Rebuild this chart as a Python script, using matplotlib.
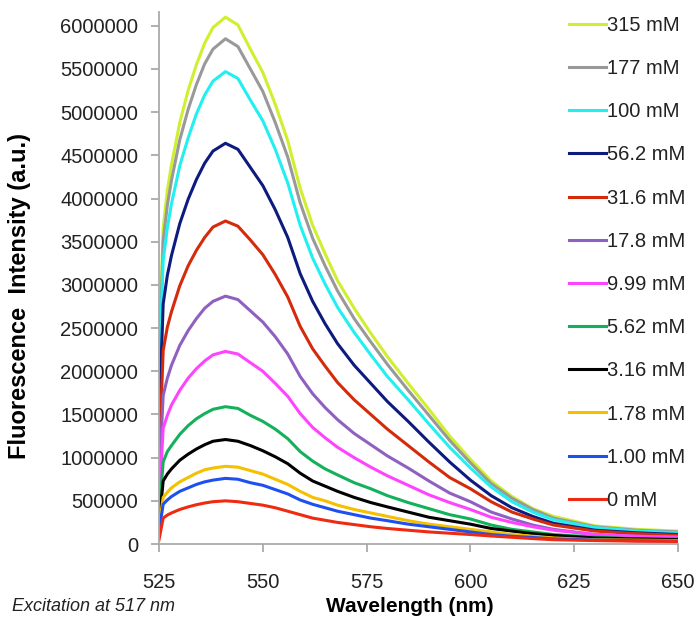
import matplotlib
matplotlib.use('Agg')
import matplotlib.pyplot as plt
from matplotlib.ticker import FuncFormatter

plt.rcParams['font.family'] = ['Liberation Sans', 'DejaVu Sans']

# wavelength grid (nm)
wavelength = [525, 526, 527, 528, 530, 532, 534, 536, 538, 541, 544, 547,
              550, 553, 556, 559, 562, 565, 568, 572, 576, 580, 585, 590,
              595, 600, 605, 610, 615, 620, 630, 640, 650]

# intensities in millions (a.u.)
i_315 = [2.14, 3.66, 4.09, 4.39, 4.88, 5.25, 5.55, 5.80, 5.98, 6.10, 6.01, 5.73,
         5.46, 5.09, 4.67, 4.12, 3.69, 3.36, 3.05, 2.73, 2.44, 2.17, 1.86, 1.56,
         1.25, 0.98, 0.73, 0.55, 0.41, 0.32, 0.21, 0.17, 0.15]
i_177 = [2.05, 3.51, 3.92, 4.21, 4.68, 5.03, 5.32, 5.56, 5.73, 5.85, 5.76, 5.50,
         5.24, 4.88, 4.48, 3.95, 3.54, 3.22, 2.93, 2.61, 2.34, 2.08, 1.78, 1.49,
         1.20, 0.94, 0.70, 0.53, 0.40, 0.30, 0.20, 0.16, 0.14]
i_100 = [1.91, 3.28, 3.66, 3.94, 4.38, 4.70, 4.98, 5.20, 5.36, 5.47, 5.39, 5.14,
         4.90, 4.57, 4.18, 3.69, 3.31, 3.01, 2.74, 2.45, 2.19, 1.94, 1.67, 1.39,
         1.12, 0.88, 0.66, 0.49, 0.37, 0.28, 0.19, 0.15, 0.13]
i_56 = [1.39, 2.78, 3.11, 3.34, 3.71, 3.99, 4.22, 4.41, 4.55, 4.64, 4.57, 4.36,
        4.15, 3.87, 3.55, 3.13, 2.81, 2.55, 2.32, 2.07, 1.86, 1.65, 1.42, 1.18,
        0.95, 0.74, 0.56, 0.42, 0.32, 0.24, 0.16, 0.13, 0.11]
i_31 = [0.94, 2.24, 2.51, 2.69, 2.99, 3.22, 3.40, 3.55, 3.67, 3.74, 3.68, 3.52,
        3.35, 3.12, 2.86, 2.52, 2.26, 2.06, 1.87, 1.67, 1.50, 1.33, 1.14, 0.95,
        0.77, 0.64, 0.49, 0.37, 0.29, 0.22, 0.15, 0.12, 0.10]
i_17 = [0.72, 1.72, 1.92, 2.07, 2.30, 2.47, 2.61, 2.73, 2.81, 2.87, 2.83, 2.70,
        2.57, 2.40, 2.20, 1.94, 1.74, 1.58, 1.44, 1.28, 1.15, 1.02, 0.88, 0.73,
        0.59, 0.49, 0.37, 0.29, 0.22, 0.17, 0.11, 0.09, 0.08]
i_9 = [0.45, 1.34, 1.49, 1.61, 1.78, 1.92, 2.03, 2.12, 2.19, 2.23, 2.20, 2.10,
       2.00, 1.86, 1.71, 1.51, 1.35, 1.23, 1.12, 1.00, 0.89, 0.79, 0.68, 0.57,
       0.48, 0.40, 0.31, 0.25, 0.20, 0.16, 0.11, 0.09, 0.08]
i_5 = [0.32, 0.95, 1.07, 1.14, 1.27, 1.37, 1.45, 1.51, 1.56, 1.59, 1.57, 1.49,
       1.42, 1.33, 1.22, 1.07, 0.96, 0.87, 0.80, 0.71, 0.64, 0.56, 0.48, 0.41,
       0.34, 0.29, 0.22, 0.17, 0.14, 0.11, 0.08, 0.06, 0.06]
i_3 = [0.24, 0.73, 0.81, 0.87, 0.97, 1.04, 1.10, 1.15, 1.19, 1.21, 1.19, 1.14,
       1.08, 1.01, 0.93, 0.82, 0.73, 0.67, 0.61, 0.54, 0.48, 0.43, 0.37, 0.31,
       0.27, 0.23, 0.18, 0.15, 0.12, 0.10, 0.07, 0.06, 0.05]
i_1_78 = [0.18, 0.54, 0.60, 0.65, 0.72, 0.77, 0.82, 0.86, 0.88, 0.90, 0.89, 0.85,
          0.81, 0.75, 0.69, 0.61, 0.54, 0.50, 0.45, 0.40, 0.36, 0.32, 0.27, 0.23,
          0.20, 0.17, 0.14, 0.11, 0.09, 0.07, 0.05, 0.045, 0.04]
i_1 = [0.15, 0.46, 0.51, 0.55, 0.61, 0.65, 0.69, 0.72, 0.74, 0.76, 0.75, 0.71,
       0.68, 0.63, 0.58, 0.51, 0.46, 0.42, 0.38, 0.34, 0.30, 0.27, 0.23, 0.20,
       0.17, 0.14, 0.11, 0.09, 0.076, 0.06, 0.046, 0.038, 0.034]
i_0 = [0.05, 0.30, 0.335, 0.36, 0.40, 0.43, 0.455, 0.475, 0.49, 0.50, 0.49, 0.47,
       0.45, 0.42, 0.38, 0.34, 0.30, 0.275, 0.25, 0.225, 0.20, 0.18, 0.16, 0.14,
       0.125, 0.11, 0.093, 0.078, 0.063, 0.05, 0.04, 0.033, 0.03]

labels = ['315 mM', '177 mM', '100 mM', '56.2 mM', '31.6 mM', '17.8 mM',
          '9.99 mM', '5.62 mM', '3.16 mM', '1.78 mM', '1.00 mM', '0 mM']
series = [i_315, i_177, i_100, i_56, i_31, i_17, i_9, i_5, i_3, i_1_78, i_1, i_0]
colors = ['#cfef2f', '#999999', '#22f0f0', '#0d1b7e', '#d42b0b', '#9060c0',
          '#ff44ff', '#13b15c', '#000000', '#f5c000', '#1e50f0', '#f02a10']

fig = plt.figure(figsize=(6.99, 6.18), dpi=100)
ax = fig.add_axes([0.2275, 0.1197, 0.7425, 0.8609])

for vals, lab, col in zip(series, labels, colors):
    ax.plot(wavelength, vals, color=col, lw=2.2, label=lab,
            solid_joinstyle='round')

ax.set_xlim(525, 650)
ax.set_ylim(0, 6.16)
ax.set_xticks([525, 550, 575, 600, 625, 650])
ax.set_yticks([k * 0.5 for k in range(13)])
ax.yaxis.set_major_formatter(FuncFormatter(lambda v, p: '%d' % round(v * 1e6)))

for s in ['top', 'right']:
    ax.spines[s].set_visible(False)
for s in ['left', 'bottom']:
    ax.spines[s].set_color('#aaaaaa')
    ax.spines[s].set_linewidth(1.3)
ax.tick_params(axis='both', colors='#aaaaaa', labelcolor='#222222',
               labelsize=14.5, length=6, width=1.3)
ax.tick_params(axis='x', pad=15)
ax.tick_params(axis='y', pad=9)

ax.set_xlabel('Wavelength (nm)', fontsize=15, fontweight='bold', va='center')
ax.xaxis.set_label_coords(0.484, -0.1175)
ax.set_ylabel('Fluorescence  Intensity (a.u.)', fontsize=17, fontweight='bold',
              va='center')
ax.yaxis.set_label_coords(-0.268, 0.466)

fig.text(0.017, 0.0194, 'Excitation at 517 nm', fontsize=13, style='italic',
         color='#222222', va='center')

leg = ax.legend(loc='upper left', bbox_to_anchor=(569 / 699, 1 - 16 / 618),
                bbox_transform=fig.transFigure, frameon=False, fontsize=14.5,
                handlelength=1.84, handletextpad=0.05, labelspacing=1.2,
                borderpad=0, borderaxespad=0)
for t in leg.get_texts():
    t.set_color('#222222')

fig.savefig('out.png', dpi=100)
